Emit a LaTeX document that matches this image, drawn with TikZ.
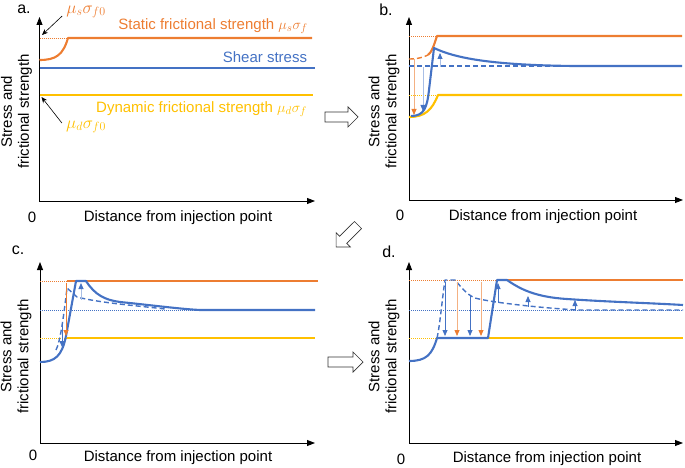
\documentclass[tikz,border=0pt]{standalone}
\usepackage{fontspec}
\setmainfont{Liberation Sans}
\usetikzlibrary{arrows.meta}
\definecolor{cor}{HTML}{ED7D31}
\definecolor{cbl}{HTML}{4472C4}
\definecolor{cye}{HTML}{FFC000}
\definecolor{lor}{HTML}{F4B183}
\definecolor{lbl}{HTML}{A9BFE6}
\begin{document}
\begin{tikzpicture}[x=1pt,y=-1pt,
  every node/.style={font=\fontsize{15}{17}\selectfont, inner sep=2pt},
  axis/.style={line width=0.9pt, {Triangle[width=6pt,length=8pt]}-{Triangle[width=6pt,length=8pt]}},
  mainln/.style={line width=2.1pt, line join=round},
  dotln/.style={line width=0.9pt, dash pattern=on 1pt off 1pt},
  dashln/.style={line width=1.4pt, dash pattern=on 5pt off 3pt, line join=round},
  thinarr/.style={line width=0.8pt, -{Triangle[width=5pt,length=6pt]}},
  ann/.style={line width=0.6pt, black, -{Stealth[width=5pt,length=6pt]}},
  bigarr/.style={draw=black!80, line width=0.7pt, fill=white, line join=miter},
  plab/.style={font=\fontsize{16}{18}\selectfont},
  mlab/.style={font=\fontsize{17}{19}\selectfont},
  ylab/.style={rotate=90, align=center},
]
\useasboundingbox (0,0) rectangle (685,468);

% ================= Panel a =================
\coordinate (oa) at (39.5,201);
\coordinate (ta) at (39.5,17);
\coordinate (ra) at (315,201);
\draw[axis] (ta) -- (oa) -- (ra);
\node[plab] (la) at (24,9) {a.};
\node[ylab] (ya) at (16.5,111.5) {Stress and\\frictional strength};
\node (xa) at (178,218) {Distance from injection point};
\node (za) at (32,217) {0};

\draw[dotln, cor] (39.5,38) -- (68,38);
\draw[mainln, cor] (39.5,60) .. controls (56,60) and (63,55) .. (68,38) -- (312,38);
\draw[mainln, cbl] (39.5,68) -- (315,68);
\draw[mainln, cye] (39.5,95) -- (313,95);

\node[cor] (tsa) at (213,26) {Static frictional strength $\mu_s\sigma_f$};
\node[cbl] (tsh) at (265,57) {Shear stress};
\node[cye] (tda) at (201.5,109) {Dynamic frictional strength $\mu_d\sigma_f$};
\node[cor, mlab] (musf) at (86,12) {$\mu_s\sigma_{f0}$};
\node[cye, mlab] (mudf) at (86,127) {$\mu_d\sigma_{f0}$};
\coordinate (pa1) at (42,35);
\coordinate (pa2) at (41.5,97);
\draw[ann] ([shift={(-2,4)}]musf.west) -- (pa1);
\draw[ann] ([shift={(-2,-4)}]mudf.west) -- (pa2);

% ================= Panel b =================
\coordinate (ob) at (409,200);
\coordinate (tb) at (409,17);
\coordinate (rb) at (683,200);
\draw[axis] (tb) -- (ob) -- (rb);
\node[plab] (lb) at (386,10) {b.};
\node[ylab] (yb) at (384,111.5) {Stress and\\frictional strength};
\node (xb) at (543,217) {Distance from injection point};
\node (zb) at (400,215) {0};

\draw[dotln, cor] (409,36) -- (437,36);
\draw[dashln, cor] (409,59) .. controls (418,59) and (424,57) .. (428,55);
\draw[mainln, cor] (428,55) .. controls (432,52) and (434,45) .. (437,36) -- (682,36);
\draw[dotln, cye] (409,95) -- (437,95);
\draw[mainln, cye] (409,117) .. controls (425,117) and (432,110) .. (438,95) -- (682,95);
\draw[dashln, cbl] (409,66) -- (573,66);
\draw[mainln, cbl] (411,116) .. controls (424,116) and (427,108) .. (429,90) -- (434,48)
   .. controls (455,58) and (490,65) .. (573,66) -- (682,66);
\coordinate (b1s) at (414,59);  \coordinate (b1e) at (414,115);
\coordinate (b2s) at (423,67);  \coordinate (b2e) at (423,111);
\coordinate (b3s) at (440,67);  \coordinate (b3e) at (440,53);
\draw[thinarr, lor, -{Triangle[width=5pt,length=6pt,color=cor]}] (b1s) -- (b1e);
\draw[thinarr, lbl, -{Triangle[width=5pt,length=6pt,color=cbl]}] (b2s) -- (b2e);
\draw[thinarr, lbl, -{Triangle[width=5pt,length=6pt,color=cbl]}] (b3s) -- (b3e);

% ================= Panel c =================
\coordinate (oc) at (40,443);
\coordinate (tc) at (40,262);
\coordinate (rc) at (315,443);
\draw[axis] (tc) -- (oc) -- (rc);
\node[plab] (lc) at (18,250) {c.};
\node[ylab] (yc) at (16,356.5) {Stress and\\frictional strength};
\node (xc) at (178,458) {Distance from injection point};
\node (zc) at (33,455) {0};

\draw[dotln, cor] (40,281) -- (67,281);
\draw[mainln, cor] (67,281) -- (318,281);
\draw[dotln, cbl] (40,310) -- (200,310);
\draw[dotln, cye] (40,338) -- (67,338);
\draw[mainln, cye] (67,338) -- (315,338);
\draw[dashln, cbl] (56,350) .. controls (60,342) and (63,322) .. (67,288) -- (77,297)
   .. controls (100,303) and (140,306) .. (165,309);
\draw[mainln, cbl] (40,362) .. controls (55,362) and (62,356) .. (66,336) -- (76,281) -- (86,281)
   .. controls (95,295) and (105,300) .. (120,302) .. controls (150,305) and (180,309) .. (200,310) -- (315,310);
\coordinate (c1s) at (66,283);  \coordinate (c1e) at (66,336);
\coordinate (c2s) at (62,325);  \coordinate (c2e) at (62,347);
\coordinate (c3s) at (81,300);  \coordinate (c3e) at (81,283);
\draw[thinarr, cor] (c1s) -- (c1e);
\draw[thinarr, cbl] (c2s) -- (c2e);
\draw[thinarr, lbl, -{Triangle[width=5pt,length=6pt,color=cbl]}] (c3s) -- (c3e);

% ================= Panel d =================
\coordinate (od) at (409,443);
\coordinate (td) at (409,262);
\coordinate (rd) at (683,443);
\draw[axis] (td) -- (od) -- (rd);
\node[plab] (ld) at (389,252) {d.};
\node[ylab] (yd) at (384,356.5) {Stress and\\frictional strength};
\node (xd) at (547,459) {Distance from injection point};
\node (zd) at (401,459) {0};

\draw[dotln, cor] (409,280) -- (497,280);
\draw[mainln, cor] (497,280) -- (683,280);
\draw[dotln, cbl] (409,310) -- (683,310);
\draw[dotln, cye] (409,338) -- (437,338);
\draw[mainln, cye] (437,338) -- (683,338);
\draw[dashln, cbl] (437,338) .. controls (440,325) and (442,300) .. (445,280) -- (455,280)
   .. controls (462,288) and (466,294) .. (475,298) .. controls (490,302) and (530,307) .. (577,310) -- (683,310);
\draw[mainln, cbl] (409,361) .. controls (426,361) and (432,355) .. (437,338) -- (488,338) -- (497,280) -- (507,280)
   .. controls (520,289) and (535,297) .. (567,299) .. controls (610,302) and (650,303) .. (683,305);
\coordinate (d1s) at (445,282); \coordinate (d1e) at (445,336);
\coordinate (d2s) at (457,282); \coordinate (d2e) at (457,336);
\coordinate (d3s) at (470,296); \coordinate (d3e) at (470,336);
\coordinate (d4s) at (481,282); \coordinate (d4e) at (481,336);
\draw[thinarr, cbl] (d1s) -- (d1e);
\draw[thinarr, lor, -{Triangle[width=5pt,length=6pt,color=cor]}] (d2s) -- (d2e);
\draw[thinarr, cbl] (d3s) -- (d3e);
\draw[thinarr, lor, -{Triangle[width=5pt,length=6pt,color=cor]}] (d4s) -- (d4e);
\coordinate (u1s) at (498,303); \coordinate (u1e) at (498,283);
\coordinate (u2s) at (528,307); \coordinate (u2e) at (528,296);
\coordinate (u3s) at (575,311); \coordinate (u3e) at (575,300);
\draw[thinarr, cbl] (u1s) -- (u1e);
\draw[thinarr, cbl] (u2s) -- (u2e);
\draw[thinarr, cbl] (u3s) -- (u3e);

% ================= Hollow arrows between panels =================
\draw[bigarr] (325,112) -- (348,112) -- (348,107) -- (358,117) -- (348,127) -- (348,122) -- (325,122) -- cycle;
\draw[bigarr] (328,357) -- (353,357) -- (353,352) -- (363,362) -- (353,372) -- (353,367) -- (328,367) -- cycle;
\draw[bigarr] (361.5,228.5) -- (346.7,243.4) -- (350.2,246.9) -- (336.1,246.9) -- (336.1,232.8) -- (339.6,236.3) -- (354.5,221.5) -- cycle;
\end{tikzpicture}
\end{document}
